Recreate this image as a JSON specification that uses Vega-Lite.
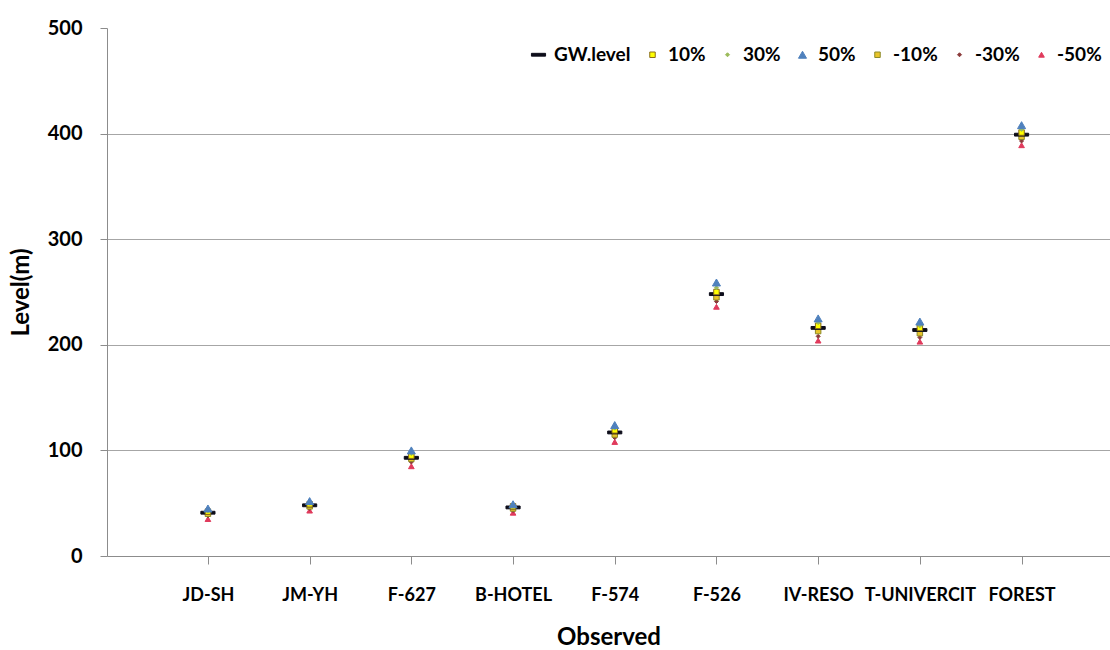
{
  "$schema": "https://vega.github.io/schema/vega-lite/v6.json",
  "width": 1003,
  "height": 528,
  "autosize": {"type": "none"},
  "padding": {"left": 107, "top": 28, "right": 0, "bottom": 94},
  "background": "white",
  "config": {
    "view": {"stroke": null},
    "font": "Lato",
    "axis": {"labelFont": "Lato", "titleFont": "Lato", "labelFontWeight": "bold", "titleFontWeight": "bold", "labelColor": "black", "titleColor": "black"},
    "legend": {"title": null, "orient": "none", "legendX": 422, "legendY": 17, "direction": "horizontal",
        "labelFont": "Lato", "labelFontSize": 19, "labelFontWeight": "bold", "labelColor": "black",
        "columnPadding": 12, "labelOffset": 6, "symbolStrokeWidth": 1}
  },
  "data": {
    "values": [
      {"site": "JD-SH", "series": "GW.level", "level": 41},
      {"site": "JD-SH", "series": "10%", "level": 42},
      {"site": "JD-SH", "series": "30%", "level": 43},
      {"site": "JD-SH", "series": "50%", "level": 45},
      {"site": "JD-SH", "series": "-10%", "level": 40},
      {"site": "JD-SH", "series": "-30%", "level": 38},
      {"site": "JD-SH", "series": "-50%", "level": 35},
      {"site": "JM-YH", "series": "GW.level", "level": 48},
      {"site": "JM-YH", "series": "10%", "level": 49},
      {"site": "JM-YH", "series": "30%", "level": 50},
      {"site": "JM-YH", "series": "50%", "level": 52},
      {"site": "JM-YH", "series": "-10%", "level": 47},
      {"site": "JM-YH", "series": "-30%", "level": 45},
      {"site": "JM-YH", "series": "-50%", "level": 43},
      {"site": "F-627", "series": "GW.level", "level": 93},
      {"site": "F-627", "series": "10%", "level": 95},
      {"site": "F-627", "series": "30%", "level": 97},
      {"site": "F-627", "series": "50%", "level": 100},
      {"site": "F-627", "series": "-10%", "level": 92},
      {"site": "F-627", "series": "-30%", "level": 89},
      {"site": "F-627", "series": "-50%", "level": 85},
      {"site": "B-HOTEL", "series": "GW.level", "level": 46},
      {"site": "B-HOTEL", "series": "10%", "level": 47},
      {"site": "B-HOTEL", "series": "30%", "level": 48},
      {"site": "B-HOTEL", "series": "50%", "level": 49},
      {"site": "B-HOTEL", "series": "-10%", "level": 45},
      {"site": "B-HOTEL", "series": "-30%", "level": 43},
      {"site": "B-HOTEL", "series": "-50%", "level": 41},
      {"site": "F-574", "series": "GW.level", "level": 117},
      {"site": "F-574", "series": "10%", "level": 119},
      {"site": "F-574", "series": "30%", "level": 121},
      {"site": "F-574", "series": "50%", "level": 124},
      {"site": "F-574", "series": "-10%", "level": 115},
      {"site": "F-574", "series": "-30%", "level": 112},
      {"site": "F-574", "series": "-50%", "level": 108},
      {"site": "F-526", "series": "GW.level", "level": 248},
      {"site": "F-526", "series": "10%", "level": 250},
      {"site": "F-526", "series": "30%", "level": 254},
      {"site": "F-526", "series": "50%", "level": 259},
      {"site": "F-526", "series": "-10%", "level": 245},
      {"site": "F-526", "series": "-30%", "level": 241},
      {"site": "F-526", "series": "-50%", "level": 236},
      {"site": "IV-RESO", "series": "GW.level", "level": 216},
      {"site": "IV-RESO", "series": "10%", "level": 218},
      {"site": "IV-RESO", "series": "30%", "level": 221},
      {"site": "IV-RESO", "series": "50%", "level": 225},
      {"site": "IV-RESO", "series": "-10%", "level": 213},
      {"site": "IV-RESO", "series": "-30%", "level": 208},
      {"site": "IV-RESO", "series": "-50%", "level": 204},
      {"site": "T-UNIVERCIT", "series": "GW.level", "level": 214},
      {"site": "T-UNIVERCIT", "series": "10%", "level": 216},
      {"site": "T-UNIVERCIT", "series": "30%", "level": 218},
      {"site": "T-UNIVERCIT", "series": "50%", "level": 222},
      {"site": "T-UNIVERCIT", "series": "-10%", "level": 211},
      {"site": "T-UNIVERCIT", "series": "-30%", "level": 207},
      {"site": "T-UNIVERCIT", "series": "-50%", "level": 203},
      {"site": "FOREST", "series": "GW.level", "level": 399},
      {"site": "FOREST", "series": "10%", "level": 401},
      {"site": "FOREST", "series": "30%", "level": 404},
      {"site": "FOREST", "series": "50%", "level": 408},
      {"site": "FOREST", "series": "-10%", "level": 397},
      {"site": "FOREST", "series": "-30%", "level": 393},
      {"site": "FOREST", "series": "-50%", "level": 389}
    ]
  },
  "mark": {"type": "point", "filled": true, "strokeWidth": 1, "opacity": 1},
  "encoding": {
    "x": {
      "field": "site", "type": "nominal",
      "sort": ["JD-SH", "JM-YH", "F-627", "B-HOTEL", "F-574", "F-526", "IV-RESO", "T-UNIVERCIT", "FOREST"],
      "scale": {"type": "point", "padding": 0.931, "align": 0.533},
      "axis": {
        "title": "Observed", "titleFontSize": 24, "titlePadding": 21,
        "labelAngle": 0, "labelFontSize": 18, "labelPadding": 22,
        "domainColor": "#8c8c8c", "tickColor": "#8c8c8c", "tickSize": 8, "grid": false
      }
    },
    "y": {
      "field": "level", "type": "quantitative",
      "scale": {"domain": [0, 500], "nice": false, "zero": true},
      "axis": {
        "title": "Level(m)", "titleFontSize": 24, "titlePadding": 14,
        "values": [0, 100, 200, 300, 400, 500],
        "labelFontSize": 20, "labelPadding": 18,
        "domainColor": "#8c8c8c", "tickColor": "#8c8c8c", "tickSize": 7,
        "grid": true, "gridColor": "#a6a6a6",
        "gridOpacity": {"condition": {"test": "datum.value == 500 || datum.value == 0", "value": 0}, "value": 1}
      }
    },
    "shape": {
      "field": "series", "type": "nominal",
      "scale": {
        "domain": ["GW.level", "10%", "30%", "50%", "-10%", "-30%", "-50%"],
        "range": ["M-1,-0.2H1V0.2H-1Z", "square", "diamond", "triangle-up", "square", "diamond", "triangle-up"]
      }
    },
    "fill": {
      "field": "series", "type": "nominal",
      "scale": {
        "domain": ["GW.level", "10%", "30%", "50%", "-10%", "-30%", "-50%"],
        "range": ["#0d0d1a", "#ffff00", "#9bbb59", "#4f81bd", "#e8c42a", "#8b3a3a", "#e03a5c"]
      }
    },
    "stroke": {
      "field": "series", "type": "nominal",
      "scale": {
        "domain": ["GW.level", "10%", "30%", "50%", "-10%", "-30%", "-50%"],
        "range": ["#0d0d1a", "#8a6d1a", "#9bbb59", "#4f81bd", "#8c8a2a", "#8b3a3a", "#e03a5c"]
      }
    },
    "size": {
      "field": "series", "type": "nominal",
      "scale": {
        "type": "ordinal",
        "domain": ["GW.level", "10%", "30%", "50%", "-10%", "-30%", "-50%"],
        "range": [200, 30, 16, 65, 30, 16, 32]
      }
    },
    "order": {"field": "level", "type": "quantitative"}
  }
}
